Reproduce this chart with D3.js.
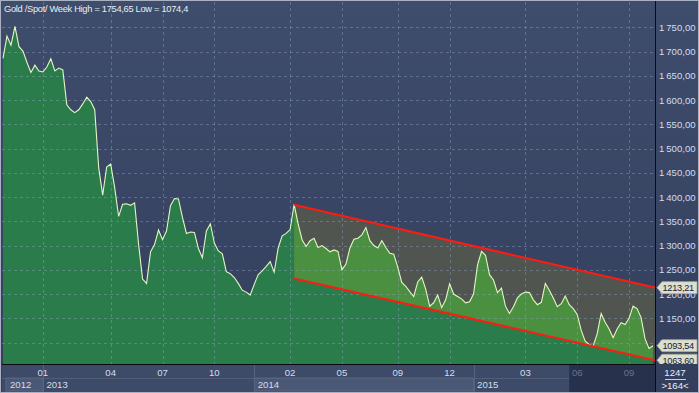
<!DOCTYPE html>
<html><head><meta charset="utf-8">
<script src="https://cdn.jsdelivr.net/npm/d3@7/dist/d3.min.js"></script>
<style>html,body{margin:0;padding:0;background:#3b4866;overflow:hidden}svg{display:block;font-family:"Liberation Sans",Arial,sans-serif}</style>
</head><body><svg id="c" width="699" height="393"></svg>
<script>
// ---- data (weekly closes) ----
const closes = [
1686,1732,1713,1752,1710,1701,1678,1657,1672,1660,
1658,1668,1685,1660,1666,1662,1590,1580,1574,1580,
1592,1606,1597,1580,1460,1404,1462,1468,1420,1360,
1385,1386,1383,1388,1303,1231,1222,1287,1302,1332,
1312,1330,1382,1397,1396,1358,1325,1328,1327,1294,
1275,1330,1345,1305,1289,1283,1246,1242,1234,1222,
1208,1204,1198,1220,1240,1248,1257,1267,1245,1295,
1320,1325,1333,1385,1345,1312,1298,1310,1315,1296,
1300,1294,1287,1291,1288,1250,1262,1295,1313,1315,
1322,1337,1310,1300,1295,1310,1296,1284,1282,1255,
1224,1216,1205,1195,1225,1235,1210,1175,1182,1198,
1172,1188,1221,1200,1195,1190,1182,1184,1200,1260,
1288,1280,1240,1229,1203,1212,1175,1160,1174,1192,
1200,1204,1203,1188,1178,1183,1222,1208,1192,1174,
1180,1196,1178,1170,1158,1125,1103,1096,1093,1118,
1160,1142,1128,1110,1128,1141,1137,1150,1175,1170,
1152,1108,1088,1093.54];
const monthTickIdx = [10,27,40,53,72,85,99,112,131,144,157];
const monthTickLbl = ["01","04","07","10","02","05","09","12","03","06","09"];
const yearStartIdx = [0,10,63,118];
const yearLabels = ["2012","2013","2014","2015"];
const shadedFromIdx = 142;
const yTicks = [1100,1150,1200,1250,1300,1350,1400,1450,1500,1550,1600,1650,1700,1750];
const channelUpper = [[73,1384],[163.5,1213.21]];
const channelLower = [[73,1232],[163.5,1063.6]];
const priceTags = [1213.21,1063.60,1093.54];
const titleText = "Gold /Spot/ Week High = 1754,65 Low = 1074,4";
const barCountText = "1247";
const visibleText = ">164<";

// ---- layout ----
const W=699,H=393, L=2, R=655, T=2, B=364;
const svg=d3.select("#c");
const x=d3.scaleLinear().domain([0,closes.length-1]).range([3,653]);
const y=d3.scaleLinear().domain([1150,1750]).range([318.3,27.3]);
const loc=d3.formatLocale({decimal:",",thousands:"\u2009",grouping:[3],currency:["",""]});
const fAxis=loc.format(",.2f"), fTag=loc.format(".2f");

const defs=svg.append("defs");
const g=defs.append("linearGradient").attr("id","bg").attr("x1",0).attr("y1",0).attr("x2",0).attr("y2",1);
g.append("stop").attr("offset","0%").attr("stop-color","#3f4d6c");
g.append("stop").attr("offset","100%").attr("stop-color","#323e5c");
defs.append("clipPath").attr("id","plotClip").append("rect").attr("x",L).attr("y",T).attr("width",R-L).attr("height",B-T);
const chanPts=[channelUpper[0],channelUpper[1],channelLower[1],channelLower[0]].map(d=>[x(d[0]),y(d[1])]);
defs.append("clipPath").attr("id","chanClip").append("polygon").attr("points",chanPts.map(p=>p.join(",")).join(" "));
defs.append("clipPath").attr("id","tagClip").append("rect").attr("x",R).attr("y",0).attr("width",W-R).attr("height",B);

// backgrounds
svg.append("rect").attr("x",0).attr("y",0).attr("width",W).attr("height",H).attr("fill","url(#bg)");

const plot=svg.append("g").attr("clip-path","url(#plotClip)");
const area=d3.area().x((d,i)=>x(i)).y0(B).y1(d=>y(d));
plot.append("path").datum(closes).attr("d",area).attr("fill","#2a7c4b");
// channel
plot.append("polygon").attr("points",chanPts.map(p=>p.join(",")).join(" ")).attr("fill","#50564f");
plot.append("path").datum(closes).attr("d",area).attr("fill","#4a9040").attr("clip-path","url(#chanClip)");
// grid
plot.selectAll("line.hg").data(yTicks).join("line").attr("x1",L).attr("x2",R)
  .attr("y1",d=>Math.round(y(d))+0.5).attr("y2",d=>Math.round(y(d))+0.5)
  .attr("stroke","rgba(150,170,205,0.38)").attr("stroke-dasharray","3,3");
plot.selectAll("line.vg").data(monthTickIdx).join("line").attr("y1",T).attr("y2",B)
  .attr("x1",d=>Math.round(x(d))+0.5).attr("x2",d=>Math.round(x(d))+0.5)
  .attr("stroke","rgba(150,170,205,0.38)").attr("stroke-dasharray","3,3");
// line
plot.append("path").datum(closes).attr("d",d3.line().x((d,i)=>x(i)).y(d=>y(d)))
  .attr("fill","none").attr("stroke","#e4f6c2").attr("stroke-width",1.1);
// channel lines
[channelUpper,channelLower].forEach(c=>{
  plot.append("line").attr("x1",x(c[0][0])).attr("y1",y(c[0][1])).attr("x2",x(c[1][0])).attr("y2",y(c[1][1]))
   .attr("stroke","#ff1a12").attr("stroke-width",2);
});

// title
svg.append("text").attr("x",4).attr("y",12).attr("fill","#e8edf5").attr("font-size","9.3px")
  .attr("letter-spacing","-0.3px").text(titleText);

// bottom axis
const ax=svg.append("g");
ax.append("rect").attr("x",L).attr("y",B).attr("width",R-L).attr("height",H-1-B).attr("fill","#3d4a68");
const yrBounds=yearStartIdx.map((d,i)=>i===0?6:x(d));
const yrEnds=yearStartIdx.map((d,i)=>i<yearStartIdx.length-1?x(yearStartIdx[i+1]):x(shadedFromIdx));
yearLabels.forEach((lab,i)=>{
  if(i%2===0) ax.append("rect").attr("x",yrBounds[i]).attr("y",378).attr("width",yrEnds[i]-yrBounds[i]).attr("height",13)
     .attr("fill","#4b5875").attr("stroke","#5c6985").attr("stroke-width",0.8);
});
ax.append("line").attr("x1",L).attr("x2",R).attr("y1",378.5).attr("y2",378.5).attr("stroke","#56637f").attr("stroke-width",0.8);
yearStartIdx.slice(1).forEach(d=>{
  ax.append("line").attr("x1",Math.round(x(d))+0.5).attr("x2",Math.round(x(d))+0.5).attr("y1",B).attr("y2",H-1).attr("stroke","#56637f");
});
ax.append("rect").attr("x",x(shadedFromIdx)).attr("y",B).attr("width",R-x(shadedFromIdx)).attr("height",H-1-B).attr("fill","#27314b");
monthTickIdx.forEach((d,i)=>{
  ax.append("text").attr("x",x(d)).attr("y",376).attr("text-anchor","middle").attr("font-size","9.6px")
   .attr("fill",d>=shadedFromIdx?"#66738f":"#d3ddf0").text(monthTickLbl[i]);
});
yearLabels.forEach((lab,i)=>{
  ax.append("text").attr("x",yrBounds[i]+(i===0?4:3.5)).attr("y",388).attr("font-size","9.6px").attr("fill","#d3ddf0").text(lab);
});

// right axis
const ra=svg.append("g");
ra.selectAll("text").data(yTicks).join("text").attr("x",659).attr("y",d=>y(d)+3.5)
  .attr("font-size","9.6px").attr("fill","#d3ddf0").text(d=>fAxis(d));
const tg=svg.append("g").attr("clip-path","url(#tagClip)");
priceTags.forEach(v=>{
  const yy=y(v);
  tg.append("path").attr("d",`M657,${yy} L662,${yy-6} L697,${yy-6} L697,${yy+6} L662,${yy+6} Z`)
    .attr("fill","#dcdfcd").attr("stroke","#a4a894").attr("stroke-width",0.8);
  tg.append("text").attr("x",662.5).attr("y",yy+3.5).attr("font-size","9.2px").attr("letter-spacing","-0.25px")
    .attr("fill","#18203a").text(fTag(v));
});
svg.append("text").attr("x",675).attr("y",376).attr("text-anchor","middle").attr("font-size","9.6px").attr("fill","#e8edf5").text(barCountText);
svg.append("line").attr("x1",665).attr("x2",686).attr("y1",379.5).attr("y2",379.5).attr("stroke","#c8d0e0");
svg.append("text").attr("x",675).attr("y",389).attr("text-anchor","middle").attr("font-size","9.6px").attr("fill","#e8edf5").text(visibleText);

// frame lines
svg.append("line").attr("x1",R+0.5).attr("x2",R+0.5).attr("y1",0).attr("y2",H).attr("stroke","#0a0c12");
svg.append("line").attr("x1",L).attr("x2",R).attr("y1",B+0.5).attr("y2",B+0.5).attr("stroke","#0a0c12");
svg.append("rect").attr("x",0.5).attr("y",0.5).attr("width",W-1).attr("height",H-1).attr("fill","none").attr("stroke","#a9b1c2");
</script></body></html>
